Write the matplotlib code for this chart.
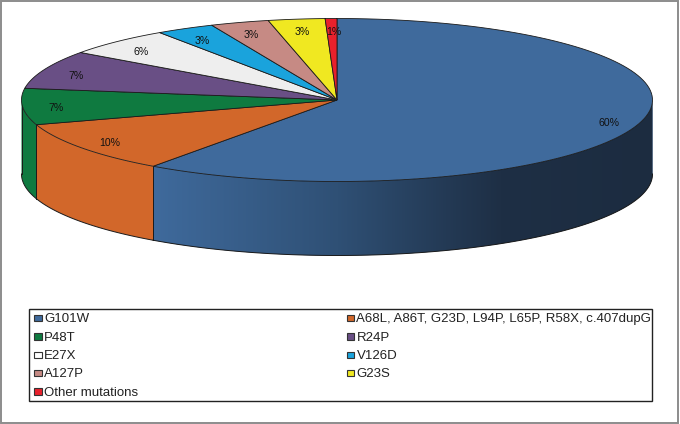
import numpy as np
from matplotlib import pyplot as plt
from matplotlib.patches import Polygon, Rectangle

plt.rcParams['font.family'] = ['Liberation Sans', 'DejaVu Sans']

mutations = ['G101W', 'A68L, A86T, G23D, L94P, L65P, R58X, c.407dupG', 'P48T', 'R24P', 'E27X',
             'V126D', 'A127P', 'G23S', 'Other mutations']
shares = [59.9, 10.2, 7.2, 7.6, 5.6, 3.0, 3.0, 2.9, 0.6]
labels = ['60%', '10%', '7%', '7%', '6%', '3%', '3%', '3%', '1%']
colors = ['#3f6a9c', '#d2672a', '#0f7a40', '#694f85', '#eeeeee', '#1aa3dc', '#c68a84', '#f0e821', '#e8212c']

# Pie geometry in pixels
cx, cy = 337, 100
rx, ry = 315.5, 81.5
depth = 74
edge = '#1a1a1a'

fig = plt.figure(figsize=(6.8, 4.24), dpi=100)
ax = fig.add_axes([0, 0, 1, 1])
ax.axis('off')


def rim(a0, a1, n=120):
    # Points on the top ellipse, angles in degrees clockwise from the top
    t = np.radians(np.linspace(a0, a1, n))
    return np.column_stack([cx + rx * np.sin(t), cy - ry * np.cos(t)])


edges = np.cumsum([0] + shares) * 3.6

# Outer frame
ax.add_patch(Rectangle((0.5, 0.5), 677.5, 422, fill=False, ec='#8c8c8c', lw=1.4))

# Visible wall, only the lower half of the ellipse
for i in range(len(shares)):
    a0, a1 = max(edges[i], 90), min(edges[i + 1], 270)
    if a0 >= a1:
        continue
    top = rim(a0, a1)
    wall = Polygon(np.vstack([top, top[::-1] + [0, depth]]), fc=colors[i], ec='none', zorder=2)
    ax.add_patch(wall)
    if i == 0:
        # Side of the blue slice gets darker going right
        xs = np.arange(150, 655)
        stops = [153, 337, 500, 652]
        rgb = np.array([[0x3f, 0x6a, 0x9c], [0x2f, 0x50, 0x75], [0x1e, 0x2f, 0x45], [0x1c, 0x2c, 0x40]]) / 255
        grad = np.stack([np.interp(xs, stops, rgb[:, k]) for k in range(3)], axis=-1)[np.newaxis, :, :]
        im = ax.imshow(grad, extent=[150, 655, 260, 90], aspect='auto', zorder=2.5)
        im.set_clip_path(wall)
    ax.plot(top[:, 0], top[:, 1] + depth, color=edge, lw=0.7, zorder=3)

# Vertical seams and the left silhouette edge
for a in [edges[1], edges[2], 270]:
    p = rim(a, a, 1)[0]
    ax.plot([p[0], p[0]], [p[1], p[1] + depth], color=edge, lw=0.7, zorder=3)

# Top face
for i in range(len(shares)):
    pts = np.vstack([[cx, cy], rim(edges[i], edges[i + 1])])
    ax.add_patch(Polygon(pts, fc=colors[i], ec=edge, lw=0.6, zorder=4))

# Percent labels
for i, lab in enumerate(labels):
    mid = np.radians((edges[i] + edges[i + 1]) / 2)
    ax.text(cx + 0.9 * rx * np.sin(mid) + 2, cy - 0.86 * ry * np.cos(mid) + 2, lab, fontsize=7.6,
            ha='center', va='center', color='#111111', zorder=5)

# Legend, two columns filled row by row
ax.add_patch(Rectangle((28.5, 308.5), 623.5, 92, fc='white', ec='#222222', lw=1, zorder=5))
row_y = [318, 336.7, 355, 373, 391.7]
col_x = [34, 346.5]
for i, name in enumerate(mutations):
    x, y = col_x[i % 2], row_y[i // 2]
    ax.add_patch(Rectangle((x, y - 3.3), 7.5, 6.6, fc=colors[i] if i != 4 else 'white',
                           ec='#333333', lw=0.8, zorder=6))
    ax.text(x + 10, y + 1, name, fontsize=9.55, ha='left', va='center', color='#222222', zorder=6)

ax.set_xlim(0, 680)
ax.set_ylim(424, 0)

fig.savefig('out.png', dpi=100)
